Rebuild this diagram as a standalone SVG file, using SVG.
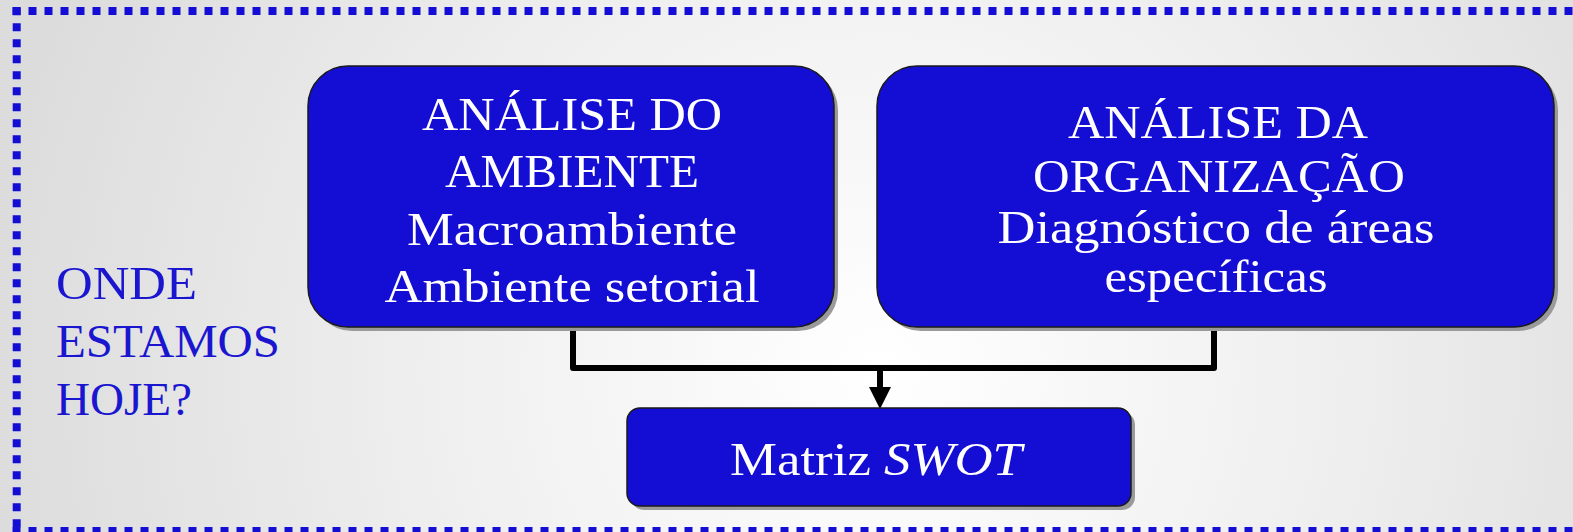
<svg xmlns="http://www.w3.org/2000/svg" width="1573" height="532" viewBox="0 0 1573 532">
<defs>
<radialGradient id="bg" cx="880" cy="370" r="900" gradientUnits="userSpaceOnUse">
<stop offset="0" stop-color="#ffffff"/>
<stop offset="0.5" stop-color="#efefef"/>
<stop offset="1" stop-color="#dcdcdc"/>
</radialGradient>
<marker id="arr" viewBox="0 0 22 22" refX="0" refY="11" markerWidth="22" markerHeight="22" markerUnits="userSpaceOnUse" orient="auto">
<path d="M0,0 L22,11 L0,22 Z" fill="#000"/>
</marker>
<style>
.box{fill:#140ed4;stroke:#1a1a1a;stroke-width:1.5}
.sh{fill:#9a9a9a}
.t{font-family:"Liberation Serif","Times New Roman",serif;font-size:47px;fill:#ffffff;text-anchor:middle}
.q{font-family:"Liberation Serif","Times New Roman",serif;font-size:47px;fill:#1a16d0}
.dot{stroke:#140ed4;stroke-width:8;stroke-dasharray:8 8;fill:none}
.con{stroke:#000;stroke-width:6;fill:none;stroke-linejoin:round}
</style>
</defs>
<rect width="1573" height="532" fill="url(#bg)"/>
<g id="border">
<line class="dot" x1="12.5" y1="11" x2="1580" y2="11"/>
<line class="dot" x1="16.7" y1="7.3" x2="16.7" y2="535"/>
<line class="dot" x1="12.5" y1="531" x2="1580" y2="531"/>
</g>
<g id="question">
<text class="q" x="56" y="299" textLength="141" lengthAdjust="spacingAndGlyphs">ONDE</text>
<text class="q" x="56" y="357" textLength="224" lengthAdjust="spacingAndGlyphs">ESTAMOS</text>
<text class="q" x="56" y="415" textLength="136" lengthAdjust="spacingAndGlyphs">HOJE?</text>
</g>
<g id="connectors">
<path class="con" d="M573,327 V368 H1214 V327"/>
<path class="con" d="M880,368 V387" stroke-width="8" marker-end="url(#arr)"/>
</g>
<g id="node-ambiente">
<rect class="sh" x="312" y="70" width="526" height="261" rx="40"/>
<rect class="box" x="308" y="66" width="526" height="261" rx="40"/>
<text class="t" x="572" y="130" textLength="300" lengthAdjust="spacingAndGlyphs">ANÁLISE DO</text>
<text class="t" x="572" y="187" textLength="254" lengthAdjust="spacingAndGlyphs">AMBIENTE</text>
<text class="t" x="572" y="245" textLength="330" lengthAdjust="spacingAndGlyphs">Macroambiente</text>
<text class="t" x="572" y="302" textLength="375" lengthAdjust="spacingAndGlyphs">Ambiente setorial</text>
</g>
<g id="node-organizacao">
<rect class="sh" x="881" y="70" width="677" height="261" rx="40"/>
<rect class="box" x="877" y="66" width="677" height="261" rx="40"/>
<text class="t" x="1218" y="138" textLength="300" lengthAdjust="spacingAndGlyphs">ANÁLISE DA</text>
<text class="t" x="1219" y="192" textLength="372" lengthAdjust="spacingAndGlyphs">ORGANIZAÇÃO</text>
<text class="t" x="1216" y="243" textLength="437" lengthAdjust="spacingAndGlyphs">Diagnóstico de áreas</text>
<text class="t" x="1216" y="292" textLength="223" lengthAdjust="spacingAndGlyphs">específicas</text>
</g>
<g id="node-swot">
<rect class="sh" x="631" y="412" width="504" height="98" rx="13"/>
<rect class="box" x="627" y="408" width="504" height="98" rx="13"/>
<text class="t" x="876" y="475" textLength="292" lengthAdjust="spacingAndGlyphs">Matriz <tspan font-style="italic">SWOT</tspan></text>
</g>
</svg>
